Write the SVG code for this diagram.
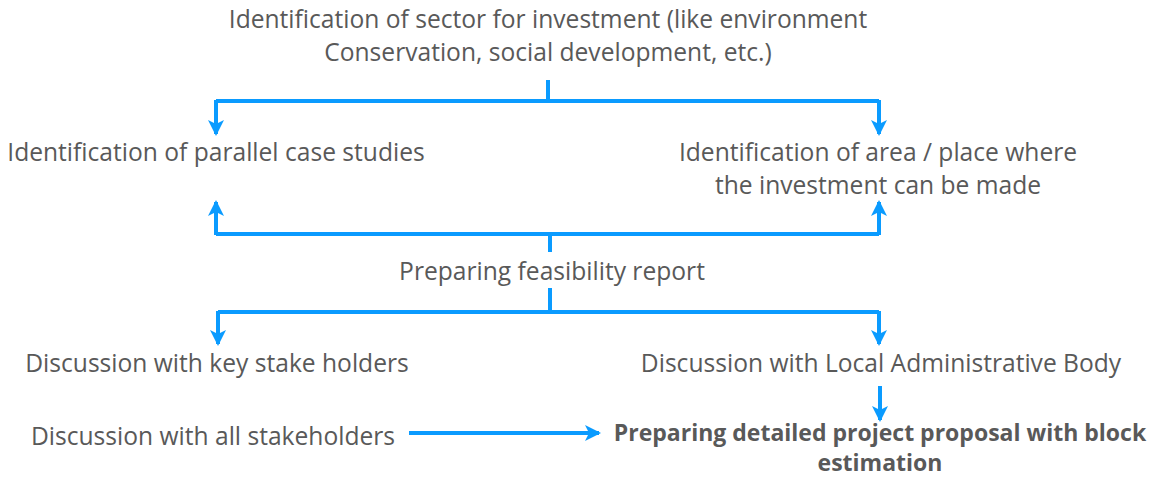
<svg xmlns="http://www.w3.org/2000/svg" width="1158" height="478" viewBox="0 0 1158 478">
<defs>
<style>
text{font-family:"Open Sans","Noto Sans","Liberation Sans",sans-serif;font-size:24.6px;fill:#595959;text-anchor:middle}
.b{font-weight:bold;font-size:23px}
.c{fill:none;stroke:#0a9bff;stroke-width:4}
</style>
<marker id="ah" viewBox="0 0 16 16" refX="14" refY="8" markerWidth="16" markerHeight="16" markerUnits="userSpaceOnUse" orient="auto">
<path d="M0,0 L16,8 L0,16 L4,8 Z" fill="#0a9bff"/>
</marker>
</defs>
<rect width="1158" height="478" fill="#fff"/>
<g id="connectors">
<path class="c" d="M548,80 V101"/>
<path class="c" d="M216,101 H879"/>
<path class="c" d="M216,100 V134" marker-end="url(#ah)"/>
<path class="c" d="M879,100 V134" marker-end="url(#ah)"/>
<path class="c" d="M550,234 V252"/>
<path class="c" d="M216,234 H879"/>
<path class="c" d="M216,235 V202" marker-end="url(#ah)"/>
<path class="c" d="M879,235 V202" marker-end="url(#ah)"/>
<path class="c" d="M550,288 V312"/>
<path class="c" d="M218,312 H879"/>
<path class="c" d="M218,311 V344" marker-end="url(#ah)"/>
<path class="c" d="M879,311 V344" marker-end="url(#ah)"/>
<path class="c" d="M880,386 V420" marker-end="url(#ah)"/>
<path class="c" d="M409,433 H599" marker-end="url(#ah)"/>
</g>
<g id="n1"><text x="548" y="28">Identification of sector for investment (like environment</text><text x="548" y="61">Conservation, social development, etc.)</text></g>
<g id="n2"><text x="216" y="161">Identification of parallel case studies</text></g>
<g id="n3"><text x="878" y="161">Identification of area / place where</text><text x="878" y="194">the investment can be made</text></g>
<g id="n4"><text x="552" y="280">Preparing feasibility report</text></g>
<g id="n5"><text x="217" y="372">Discussion with key stake holders</text></g>
<g id="n6"><text x="881" y="372">Discussion with Local Administrative Body</text></g>
<g id="n7"><text x="213" y="445">Discussion with all stakeholders</text></g>
<g id="n8"><text class="b" x="880" y="441">Preparing detailed project proposal with block</text><text class="b" x="880" y="471">estimation</text></g>
</svg>
